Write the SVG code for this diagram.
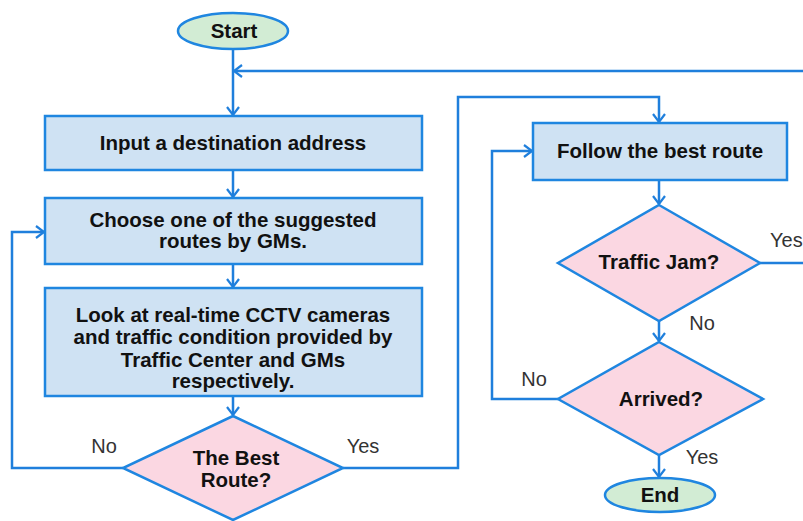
<svg xmlns="http://www.w3.org/2000/svg" width="803" height="521" viewBox="0 0 803 521">
<style>
.box{fill:#cfe2f3;stroke:#1f86e0;stroke-width:2.5}
.dia{fill:#fbd7e2;stroke:#1f86e0;stroke-width:2.5}
.term{fill:#d2ecd4;stroke:#1f86e0;stroke-width:2.5}
.t{font-family:"Liberation Sans",Arial,sans-serif;font-weight:bold;font-size:20.5px;fill:#111;text-anchor:middle}
.l{font-family:"Liberation Sans",Arial,sans-serif;font-size:20px;fill:#333;text-anchor:middle}
.c{fill:none;stroke:#1f7fdc;stroke-width:2.5}
</style>
<defs>
<marker id="a" markerWidth="14" markerHeight="14" refX="11" refY="7" orient="auto" markerUnits="userSpaceOnUse">
<path d="M3,1 L11,7 L3,13" fill="none" stroke="#1f7fdc" stroke-width="2.2"/>
</marker>
</defs>
<g id="connectors">
<path class="c" d="M233,49 V115" marker-end="url(#a)"/>
<path class="c" d="M803,71 H234" marker-end="url(#a)"/>
<path class="c" d="M233,170 V197" marker-end="url(#a)"/>
<path class="c" d="M233,264 V287" marker-end="url(#a)"/>
<path class="c" d="M233,396 V415" marker-end="url(#a)"/>
<path class="c" d="M123,468 H12 V232 H44" marker-end="url(#a)"/>
<path class="c" d="M343,468 H458 V97 H659 V122" marker-end="url(#a)"/>
<path class="c" d="M659,180 V204" marker-end="url(#a)"/>
<path class="c" d="M760,263 H803"/>
<path class="c" d="M659,321 V341" marker-end="url(#a)"/>
<path class="c" d="M558,399 H492 V151 H532" marker-end="url(#a)"/>
<path class="c" d="M659,455 V477" marker-end="url(#a)"/>
</g>
<g id="start">
<ellipse class="term" cx="233" cy="31" rx="55" ry="18"/>
<text class="t" x="234" y="38">Start</text>
</g>
<g id="input">
<rect class="box" x="45" y="116" width="377" height="54"/>
<text class="t" x="233" y="150">Input a destination address</text>
</g>
<g id="choose">
<rect class="box" x="45" y="198" width="377" height="66"/>
<text class="t" x="233" y="227">Choose one of the suggested</text>
<text class="t" x="233" y="248">routes by GMs.</text>
</g>
<g id="look">
<rect class="box" x="45" y="288" width="377" height="108"/>
<text class="t" x="233" y="322">Look at real-time CCTV cameras</text>
<text class="t" x="233" y="344">and traffic condition provided by</text>
<text class="t" x="233" y="367">Traffic Center and GMs</text>
<text class="t" x="233" y="388">respectively.</text>
</g>
<g id="best">
<polygon class="dia" points="233,416 343,468 233,520 123,468"/>
<text class="t" x="236" y="465">The Best</text>
<text class="t" x="236" y="487">Route?</text>
<text class="l" x="104" y="453">No</text>
<text class="l" x="363" y="453">Yes</text>
</g>
<g id="follow">
<rect class="box" x="533" y="123" width="254" height="57"/>
<text class="t" x="660" y="158">Follow the best route</text>
</g>
<g id="jam">
<polygon class="dia" points="659,205 760,263 659,321 558,263"/>
<text class="t" x="659" y="269">Traffic Jam?</text>
<text class="l" x="770" y="247" style="text-anchor:start">Yes</text>
<text class="l" x="702" y="330">No</text>
</g>
<g id="arrived">
<polygon class="dia" points="659,342 763,399 659,455 558,399"/>
<text class="t" x="661" y="406">Arrived?</text>
<text class="l" x="534" y="386">No</text>
<text class="l" x="702" y="464">Yes</text>
</g>
<g id="end">
<ellipse class="term" cx="660" cy="495" rx="55" ry="17"/>
<text class="t" x="660" y="502">End</text>
</g>
</svg>
